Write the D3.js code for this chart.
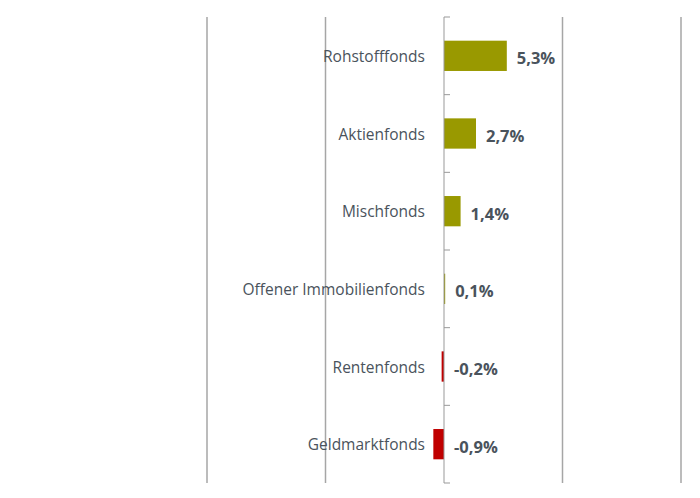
<!DOCTYPE html>
<html>
<head>
<meta charset="utf-8">
<script src="https://cdn.jsdelivr.net/npm/d3@7"></script>
<style>
  body { margin: 0; background: #ffffff; }
  svg { display: block; }
</style>
</head>
<body>
<svg id="chart" width="700" height="498"></svg>
<script>
const categories = ['Rohstofffonds', 'Aktienfonds', 'Mischfonds', 'Offener Immobilienfonds', 'Rentenfonds', 'Geldmarktfonds'];
const values = [5.3, 2.7, 1.4, 0.1, -0.2, -0.9];
const valueLabels = ['5,3%', '2,7%', '1,4%', '0,1%', '-0,2%', '-0,9%'];
const gridTicks = [-20, -10, 0, 10, 20];

const COLOR_POS = '#999900';
const COLOR_NEG = '#c00000';
const COLOR_GRID = '#a6a6a6';
const COLOR_TEXT = '#4a535c';
const FONT = '"Open Sans", "Noto Sans", sans-serif';

const svg = d3.select('#chart');

const x = d3.scaleLinear().domain([-20, 20]).range([207, 681]);
const y = d3.scaleBand().domain(categories).range([17, 483]).paddingInner(0.61).paddingOuter(0.305);
const yBand = d3.scaleBand().domain(categories).range([17, 483]);

// vertical gridlines
svg.append('g')
  .selectAll('line')
  .data(gridTicks.filter(d => d !== 0))
  .join('line')
  .attr('x1', d => x(d)).attr('x2', d => x(d))
  .attr('y1', 17).attr('y2', 483)
  .attr('stroke', COLOR_GRID)
  .attr('stroke-width', 1.5);

// bars
svg.append('g')
  .selectAll('rect')
  .data(values)
  .join('rect')
  .attr('x', d => x(Math.min(0, d)))
  .attr('width', d => Math.abs(x(d) - x(0)))
  .attr('y', (d, i) => y(categories[i]))
  .attr('height', y.bandwidth())
  .attr('fill', d => d >= 0 ? COLOR_POS : COLOR_NEG);

// category axis at zero
const axis = svg.append('g');
axis.append('line')
  .attr('x1', x(0)).attr('x2', x(0))
  .attr('y1', 17).attr('y2', 483)
  .attr('stroke', '#999999').attr('stroke-width', 1);
const boundaries = categories.map(c => yBand(c)).concat([483]);
axis.selectAll('line.tick')
  .data(boundaries)
  .join('line')
  .attr('class', 'tick')
  .attr('x1', x(0)).attr('x2', x(0) + 6)
  .attr('y1', d => d).attr('y2', d => d)
  .attr('stroke', '#999999').attr('stroke-width', 1);

// category labels
svg.append('g')
  .selectAll('text')
  .data(categories)
  .join('text')
  .attr('x', x(0) - 19)
  .attr('y', d => yBand(d) + yBand.bandwidth() / 2)
  .attr('text-anchor', 'end')
  .attr('dominant-baseline', 'central')
  .attr('font-family', FONT)
  .attr('font-size', 15.5)
  .attr('fill', COLOR_TEXT)
  .text(d => d);

// value labels
svg.append('g')
  .selectAll('text')
  .data(values)
  .join('text')
  .attr('x', d => x(Math.max(0, d)) + 10)
  .attr('y', (d, i) => yBand(categories[i]) + yBand.bandwidth() / 2 + 2)
  .attr('dominant-baseline', 'central')
  .attr('font-family', FONT)
  .attr('font-size', 16.5)
  .attr('font-weight', 'bold')
  .attr('fill', COLOR_TEXT)
  .text((d, i) => valueLabels[i]);
</script>
</body>
</html>
